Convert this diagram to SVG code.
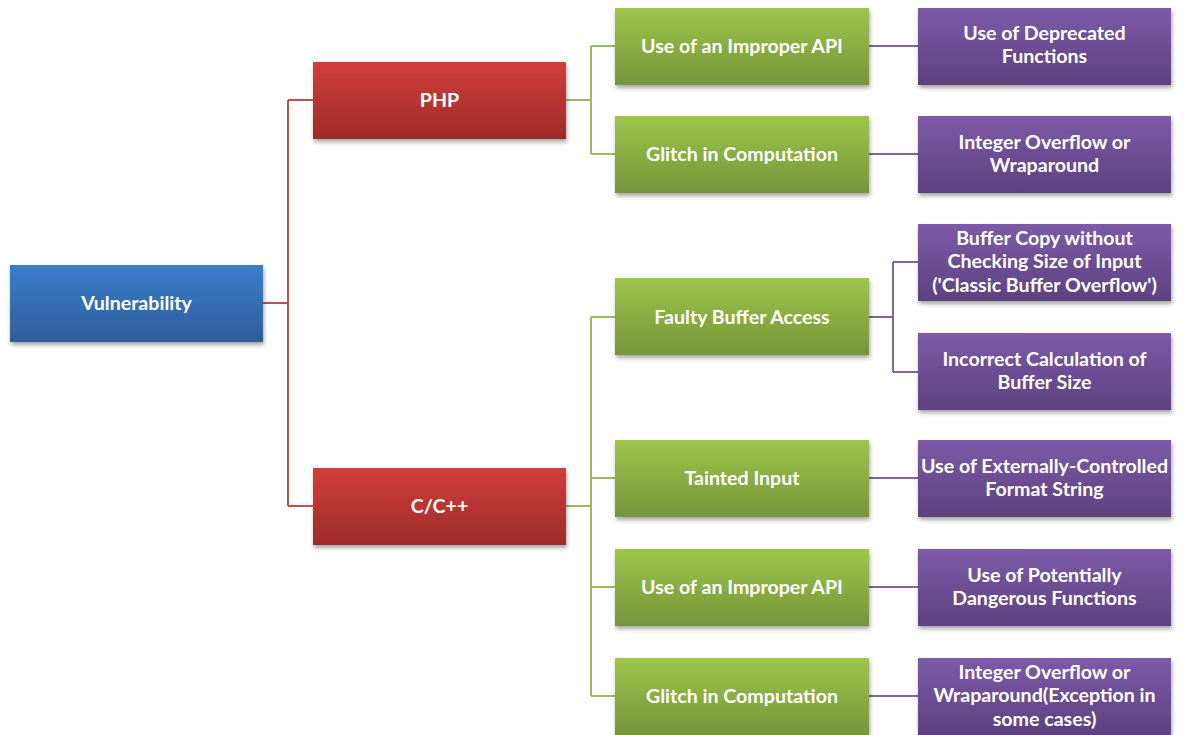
<svg xmlns="http://www.w3.org/2000/svg" width="1184" height="735" viewBox="0 0 1184 735">
  <defs>
    <linearGradient id="gBlue" x1="0" y1="0" x2="0" y2="1">
      <stop offset="0" stop-color="#3B7ECC"/>
      <stop offset="1" stop-color="#2E5D9A"/>
    </linearGradient>
    <linearGradient id="gRed" x1="0" y1="0" x2="0" y2="1">
      <stop offset="0" stop-color="#D23E3B"/>
      <stop offset="1" stop-color="#9E2B29"/>
    </linearGradient>
    <linearGradient id="gGreen" x1="0" y1="0" x2="0" y2="1">
      <stop offset="0" stop-color="#9DC64B"/>
      <stop offset="1" stop-color="#759539"/>
    </linearGradient>
    <linearGradient id="gPurple" x1="0" y1="0" x2="0" y2="1">
      <stop offset="0" stop-color="#7D5AA8"/>
      <stop offset="1" stop-color="#5D4180"/>
    </linearGradient>
    <filter id="shadow" x="-10%" y="-20%" width="125%" height="150%">
      <feDropShadow dx="1" dy="3" stdDeviation="2" flood-color="#000" flood-opacity="0.35"/>
    </filter>
  </defs>
  <style>
    .box { filter: url(#shadow); }
    .blue { fill: url(#gBlue); }
    .red { fill: url(#gRed); }
    .green { fill: url(#gGreen); }
    .purple { fill: url(#gPurple); }
    text { font-family: Lato, "Open Sans", "Liberation Sans", sans-serif; font-weight: bold; font-size: 19.6px; fill: #FFFFFF; text-anchor: middle; }
    .c-red { stroke: #C0504D; }
    .c-green { stroke: #9BBB59; }
    .c-purple { stroke: #8064A2; }
    #connectors path { fill: none; stroke-width: 2; }
  </style>

  <rect width="1184" height="735" fill="#FFFFFF"/>

  <g id="connectors">
    <!-- root to languages -->
    <path class="c-red" d="M263 303 H288 M288 100 V506 M288 100 H313 M288 506 H313"/>
    <!-- PHP to weakness categories -->
    <path class="c-green" d="M566 100 H591 M591 46 V154 M591 46 H615 M591 154 H615"/>
    <!-- C/C++ to weakness categories -->
    <path class="c-green" d="M566 506 H591 M591 317 V696 M591 317 H615 M591 478 H615 M591 587 H615 M591 696 H615"/>
    <!-- categories to concrete weaknesses -->
    <path class="c-purple" d="M869 46 H918 M869 154 H918"/>
    <path class="c-purple" d="M869 317 H893 M893 262 V372 M893 262 H918 M893 372 H918"/>
    <path class="c-purple" d="M869 478 H918 M869 587 H918 M869 696 H918"/>
  </g>

  <g id="vulnerability">
    <rect class="box blue" x="10" y="265" width="253" height="77"/>
    <text x="136.5" y="310">Vulnerability</text>
  </g>

  <g id="php">
    <rect class="box red" x="313" y="62" width="253" height="77"/>
    <text x="439.5" y="107">PHP</text>
  </g>
  <g id="cpp">
    <rect class="box red" x="313" y="468" width="253" height="77"/>
    <text x="439.5" y="513">C/C++</text>
  </g>

  <g id="php-improper-api">
    <rect class="box green" x="615" y="8" width="254" height="77"/>
    <text x="742" y="53">Use of an Improper API</text>
  </g>
  <g id="php-glitch">
    <rect class="box green" x="615" y="116" width="254" height="77"/>
    <text x="742" y="161">Glitch in Computation</text>
  </g>
  <g id="cpp-faulty-buffer">
    <rect class="box green" x="615" y="278" width="254" height="77"/>
    <text x="742" y="324">Faulty Buffer Access</text>
  </g>
  <g id="cpp-tainted-input">
    <rect class="box green" x="615" y="440" width="254" height="77"/>
    <text x="742" y="485">Tainted Input</text>
  </g>
  <g id="cpp-improper-api">
    <rect class="box green" x="615" y="549" width="254" height="77"/>
    <text x="742" y="594">Use of an Improper API</text>
  </g>
  <g id="cpp-glitch">
    <rect class="box green" x="615" y="658" width="254" height="77"/>
    <text x="742" y="703">Glitch in Computation</text>
  </g>

  <g id="deprecated-functions">
    <rect class="box purple" x="918" y="8" width="253" height="77"/>
    <text x="1044.5" y="40">Use of Deprecated</text>
    <text x="1044.5" y="63">Functions</text>
  </g>
  <g id="php-integer-overflow">
    <rect class="box purple" x="918" y="116" width="253" height="77"/>
    <text x="1044.5" y="149">Integer Overflow or</text>
    <text x="1044.5" y="172">Wraparound</text>
  </g>
  <g id="classic-buffer-overflow">
    <rect class="box purple" x="918" y="224" width="253" height="77"/>
    <text x="1044.5" y="245">Buffer Copy without</text>
    <text x="1044.5" y="268">Checking Size of Input</text>
    <text x="1044.5" y="292">('Classic Buffer Overflow')</text>
  </g>
  <g id="buffer-size-calc">
    <rect class="box purple" x="918" y="333" width="253" height="77"/>
    <text x="1044.5" y="366">Incorrect Calculation of</text>
    <text x="1044.5" y="389">Buffer Size</text>
  </g>
  <g id="format-string">
    <rect class="box purple" x="918" y="440" width="253" height="77"/>
    <text x="1044.5" y="473">Use of Externally-Controlled</text>
    <text x="1044.5" y="496">Format String</text>
  </g>
  <g id="dangerous-functions">
    <rect class="box purple" x="918" y="549" width="253" height="77"/>
    <text x="1044.5" y="582">Use of Potentially</text>
    <text x="1044.5" y="605">Dangerous Functions</text>
  </g>
  <g id="cpp-integer-overflow">
    <rect class="box purple" x="918" y="658" width="253" height="77"/>
    <text x="1044.5" y="679">Integer Overflow or</text>
    <text x="1044.5" y="702">Wraparound(Exception in</text>
    <text x="1044.5" y="726">some cases)</text>
  </g>
</svg>
